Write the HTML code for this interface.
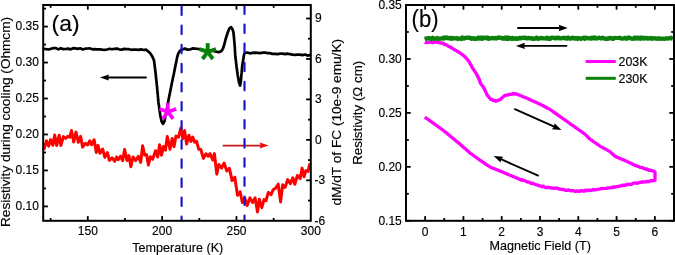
<!DOCTYPE html>
<html><head><meta charset="utf-8"><style>
html,body{margin:0;padding:0;background:#fff;overflow:hidden}
svg{display:block;will-change:transform}
text{font-family:"Liberation Sans",sans-serif;fill:#000;stroke:#000;stroke-width:0.15px}
</style></head><body><svg width="675" height="255" viewBox="0 0 675 255"><line x1="87.80" y1="220.80" x2="87.80" y2="216.10" stroke="#000" stroke-width="1.8" /><line x1="87.80" y1="5.00" x2="87.80" y2="9.70" stroke="#000" stroke-width="1.8" /><line x1="162.13" y1="220.80" x2="162.13" y2="216.10" stroke="#000" stroke-width="1.8" /><line x1="162.13" y1="5.00" x2="162.13" y2="9.70" stroke="#000" stroke-width="1.8" /><line x1="236.47" y1="220.80" x2="236.47" y2="216.10" stroke="#000" stroke-width="1.8" /><line x1="236.47" y1="5.00" x2="236.47" y2="9.70" stroke="#000" stroke-width="1.8" /><line x1="50.63" y1="220.80" x2="50.63" y2="218.00" stroke="#000" stroke-width="1.8" /><line x1="50.63" y1="5.00" x2="50.63" y2="7.80" stroke="#000" stroke-width="1.8" /><line x1="124.97" y1="220.80" x2="124.97" y2="218.00" stroke="#000" stroke-width="1.8" /><line x1="124.97" y1="5.00" x2="124.97" y2="7.80" stroke="#000" stroke-width="1.8" /><line x1="199.30" y1="220.80" x2="199.30" y2="218.00" stroke="#000" stroke-width="1.8" /><line x1="199.30" y1="5.00" x2="199.30" y2="7.80" stroke="#000" stroke-width="1.8" /><line x1="273.63" y1="220.80" x2="273.63" y2="218.00" stroke="#000" stroke-width="1.8" /><line x1="273.63" y1="5.00" x2="273.63" y2="7.80" stroke="#000" stroke-width="1.8" /><line x1="43.20" y1="206.41" x2="47.90" y2="206.41" stroke="#000" stroke-width="1.8" /><line x1="43.20" y1="170.45" x2="47.90" y2="170.45" stroke="#000" stroke-width="1.8" /><line x1="43.20" y1="134.48" x2="47.90" y2="134.48" stroke="#000" stroke-width="1.8" /><line x1="43.20" y1="98.51" x2="47.90" y2="98.51" stroke="#000" stroke-width="1.8" /><line x1="43.20" y1="62.55" x2="47.90" y2="62.55" stroke="#000" stroke-width="1.8" /><line x1="43.20" y1="26.58" x2="47.90" y2="26.58" stroke="#000" stroke-width="1.8" /><line x1="43.20" y1="188.43" x2="46.00" y2="188.43" stroke="#000" stroke-width="1.8" /><line x1="43.20" y1="152.46" x2="46.00" y2="152.46" stroke="#000" stroke-width="1.8" /><line x1="43.20" y1="116.50" x2="46.00" y2="116.50" stroke="#000" stroke-width="1.8" /><line x1="43.20" y1="80.53" x2="46.00" y2="80.53" stroke="#000" stroke-width="1.8" /><line x1="43.20" y1="44.56" x2="46.00" y2="44.56" stroke="#000" stroke-width="1.8" /><line x1="43.20" y1="8.60" x2="46.00" y2="8.60" stroke="#000" stroke-width="1.8" /><line x1="310.80" y1="180.34" x2="306.10" y2="180.34" stroke="#000" stroke-width="1.8" /><line x1="310.80" y1="139.88" x2="306.10" y2="139.88" stroke="#000" stroke-width="1.8" /><line x1="310.80" y1="99.41" x2="306.10" y2="99.41" stroke="#000" stroke-width="1.8" /><line x1="310.80" y1="58.95" x2="306.10" y2="58.95" stroke="#000" stroke-width="1.8" /><line x1="310.80" y1="18.49" x2="306.10" y2="18.49" stroke="#000" stroke-width="1.8" /><line x1="310.80" y1="200.57" x2="308.00" y2="200.57" stroke="#000" stroke-width="1.8" /><line x1="310.80" y1="160.11" x2="308.00" y2="160.11" stroke="#000" stroke-width="1.8" /><line x1="310.80" y1="119.64" x2="308.00" y2="119.64" stroke="#000" stroke-width="1.8" /><line x1="310.80" y1="79.18" x2="308.00" y2="79.18" stroke="#000" stroke-width="1.8" /><line x1="310.80" y1="38.72" x2="308.00" y2="38.72" stroke="#000" stroke-width="1.8" /><text x="87.80" y="235.40" font-size="12" text-anchor="middle" font-family="Liberation Sans, sans-serif" >150</text><text x="162.13" y="235.40" font-size="12" text-anchor="middle" font-family="Liberation Sans, sans-serif" >200</text><text x="236.47" y="235.40" font-size="12" text-anchor="middle" font-family="Liberation Sans, sans-serif" >250</text><text x="310.80" y="235.40" font-size="12" text-anchor="middle" font-family="Liberation Sans, sans-serif" >300</text><text x="38.90" y="210.31" font-size="12" text-anchor="end" font-family="Liberation Sans, sans-serif" >0.10</text><text x="38.90" y="174.35" font-size="12" text-anchor="end" font-family="Liberation Sans, sans-serif" >0.15</text><text x="38.90" y="138.38" font-size="12" text-anchor="end" font-family="Liberation Sans, sans-serif" >0.20</text><text x="38.90" y="102.41" font-size="12" text-anchor="end" font-family="Liberation Sans, sans-serif" >0.25</text><text x="38.90" y="66.45" font-size="12" text-anchor="end" font-family="Liberation Sans, sans-serif" >0.30</text><text x="38.90" y="30.48" font-size="12" text-anchor="end" font-family="Liberation Sans, sans-serif" >0.35</text><text x="314.60" y="224.50" font-size="12" text-anchor="start" font-family="Liberation Sans, sans-serif" >-6</text><text x="314.60" y="184.04" font-size="12" text-anchor="start" font-family="Liberation Sans, sans-serif" >-3</text><text x="315.00" y="143.57" font-size="12" text-anchor="start" font-family="Liberation Sans, sans-serif" >0</text><text x="315.00" y="103.11" font-size="12" text-anchor="start" font-family="Liberation Sans, sans-serif" >3</text><text x="315.00" y="62.65" font-size="12" text-anchor="start" font-family="Liberation Sans, sans-serif" >6</text><text x="315.00" y="22.19" font-size="12" text-anchor="start" font-family="Liberation Sans, sans-serif" >9</text><line x1="425.14" y1="220.80" x2="425.14" y2="216.10" stroke="#000" stroke-width="1.8" /><line x1="425.14" y1="5.00" x2="425.14" y2="9.70" stroke="#000" stroke-width="1.8" /><line x1="463.43" y1="220.80" x2="463.43" y2="216.10" stroke="#000" stroke-width="1.8" /><line x1="463.43" y1="5.00" x2="463.43" y2="9.70" stroke="#000" stroke-width="1.8" /><line x1="501.71" y1="220.80" x2="501.71" y2="216.10" stroke="#000" stroke-width="1.8" /><line x1="501.71" y1="5.00" x2="501.71" y2="9.70" stroke="#000" stroke-width="1.8" /><line x1="540.00" y1="220.80" x2="540.00" y2="216.10" stroke="#000" stroke-width="1.8" /><line x1="540.00" y1="5.00" x2="540.00" y2="9.70" stroke="#000" stroke-width="1.8" /><line x1="578.29" y1="220.80" x2="578.29" y2="216.10" stroke="#000" stroke-width="1.8" /><line x1="578.29" y1="5.00" x2="578.29" y2="9.70" stroke="#000" stroke-width="1.8" /><line x1="616.57" y1="220.80" x2="616.57" y2="216.10" stroke="#000" stroke-width="1.8" /><line x1="616.57" y1="5.00" x2="616.57" y2="9.70" stroke="#000" stroke-width="1.8" /><line x1="654.86" y1="220.80" x2="654.86" y2="216.10" stroke="#000" stroke-width="1.8" /><line x1="654.86" y1="5.00" x2="654.86" y2="9.70" stroke="#000" stroke-width="1.8" /><line x1="444.29" y1="220.80" x2="444.29" y2="218.00" stroke="#000" stroke-width="1.8" /><line x1="444.29" y1="5.00" x2="444.29" y2="7.80" stroke="#000" stroke-width="1.8" /><line x1="482.57" y1="220.80" x2="482.57" y2="218.00" stroke="#000" stroke-width="1.8" /><line x1="482.57" y1="5.00" x2="482.57" y2="7.80" stroke="#000" stroke-width="1.8" /><line x1="520.86" y1="220.80" x2="520.86" y2="218.00" stroke="#000" stroke-width="1.8" /><line x1="520.86" y1="5.00" x2="520.86" y2="7.80" stroke="#000" stroke-width="1.8" /><line x1="559.14" y1="220.80" x2="559.14" y2="218.00" stroke="#000" stroke-width="1.8" /><line x1="559.14" y1="5.00" x2="559.14" y2="7.80" stroke="#000" stroke-width="1.8" /><line x1="597.43" y1="220.80" x2="597.43" y2="218.00" stroke="#000" stroke-width="1.8" /><line x1="597.43" y1="5.00" x2="597.43" y2="7.80" stroke="#000" stroke-width="1.8" /><line x1="635.71" y1="220.80" x2="635.71" y2="218.00" stroke="#000" stroke-width="1.8" /><line x1="635.71" y1="5.00" x2="635.71" y2="7.80" stroke="#000" stroke-width="1.8" /><line x1="406.00" y1="220.80" x2="410.70" y2="220.80" stroke="#000" stroke-width="1.8" /><line x1="674.00" y1="220.80" x2="669.30" y2="220.80" stroke="#000" stroke-width="1.8" /><line x1="406.00" y1="166.85" x2="410.70" y2="166.85" stroke="#000" stroke-width="1.8" /><line x1="674.00" y1="166.85" x2="669.30" y2="166.85" stroke="#000" stroke-width="1.8" /><line x1="406.00" y1="112.90" x2="410.70" y2="112.90" stroke="#000" stroke-width="1.8" /><line x1="674.00" y1="112.90" x2="669.30" y2="112.90" stroke="#000" stroke-width="1.8" /><line x1="406.00" y1="58.95" x2="410.70" y2="58.95" stroke="#000" stroke-width="1.8" /><line x1="674.00" y1="58.95" x2="669.30" y2="58.95" stroke="#000" stroke-width="1.8" /><line x1="406.00" y1="5.00" x2="410.70" y2="5.00" stroke="#000" stroke-width="1.8" /><line x1="674.00" y1="5.00" x2="669.30" y2="5.00" stroke="#000" stroke-width="1.8" /><line x1="406.00" y1="193.82" x2="408.80" y2="193.82" stroke="#000" stroke-width="1.8" /><line x1="674.00" y1="193.82" x2="671.20" y2="193.82" stroke="#000" stroke-width="1.8" /><line x1="406.00" y1="139.87" x2="408.80" y2="139.87" stroke="#000" stroke-width="1.8" /><line x1="674.00" y1="139.87" x2="671.20" y2="139.87" stroke="#000" stroke-width="1.8" /><line x1="406.00" y1="85.92" x2="408.80" y2="85.92" stroke="#000" stroke-width="1.8" /><line x1="674.00" y1="85.92" x2="671.20" y2="85.92" stroke="#000" stroke-width="1.8" /><line x1="406.00" y1="31.97" x2="408.80" y2="31.97" stroke="#000" stroke-width="1.8" /><line x1="674.00" y1="31.97" x2="671.20" y2="31.97" stroke="#000" stroke-width="1.8" /><text x="425.14" y="235.50" font-size="12" text-anchor="middle" font-family="Liberation Sans, sans-serif" >0</text><text x="463.43" y="235.50" font-size="12" text-anchor="middle" font-family="Liberation Sans, sans-serif" >1</text><text x="501.71" y="235.50" font-size="12" text-anchor="middle" font-family="Liberation Sans, sans-serif" >2</text><text x="540.00" y="235.50" font-size="12" text-anchor="middle" font-family="Liberation Sans, sans-serif" >3</text><text x="578.29" y="235.50" font-size="12" text-anchor="middle" font-family="Liberation Sans, sans-serif" >4</text><text x="616.57" y="235.50" font-size="12" text-anchor="middle" font-family="Liberation Sans, sans-serif" >5</text><text x="654.86" y="235.50" font-size="12" text-anchor="middle" font-family="Liberation Sans, sans-serif" >6</text><text x="401.80" y="224.70" font-size="12" text-anchor="end" font-family="Liberation Sans, sans-serif" >0.15</text><text x="401.80" y="170.75" font-size="12" text-anchor="end" font-family="Liberation Sans, sans-serif" >0.20</text><text x="401.80" y="116.80" font-size="12" text-anchor="end" font-family="Liberation Sans, sans-serif" >0.25</text><text x="401.80" y="62.85" font-size="12" text-anchor="end" font-family="Liberation Sans, sans-serif" >0.30</text><text x="401.80" y="8.90" font-size="12" text-anchor="end" font-family="Liberation Sans, sans-serif" >0.35</text><path d="M43.8,149.9 L46.5,140.8 L48.7,146.1 L50.6,139.6 L52.9,145.3 L54.7,135.0 L56.7,145.5 L59.2,135.2 L60.9,145.4 L63.4,136.6 L65.7,138.4 L68.0,136.2 L69.8,137.2 L71.5,130.5 L73.7,142.0 L76.0,132.1 L78.4,142.3 L80.6,136.4 L82.6,147.1 L85.2,143.3 L87.7,144.9 L89.7,140.8 L91.5,144.8 L94.1,139.8 L96.3,152.5 L98.0,145.4 L99.9,153.2 L102.7,149.1 L104.8,157.4 L107.4,152.5 L109.4,160.4 L112.1,157.9 L114.7,161.4 L116.5,157.0 L118.2,159.7 L120.6,156.2 L122.7,160.7 L124.6,149.6 L127.0,160.5 L128.9,155.6 L130.9,166.8 L133.0,156.9 L135.6,160.6 L138.3,156.3 L140.7,162.4 L142.6,145.8 L144.6,154.9 L146.6,154.8 L148.4,165.0 L150.4,156.7 L152.7,159.1 L155.5,150.7 L157.7,156.9 L159.6,144.7 L161.5,155.2 L163.5,146.4 L165.4,150.2 L167.3,136.5 L170.0,149.3 L172.2,138.4 L174.0,146.8 L176.0,136.1 L178.5,137.1 L180.8,128.1 L182.8,138.7 L184.6,130.6 L186.6,144.1 L188.9,135.2 L190.9,141.5 L192.7,137.1 L194.7,142.3 L196.6,141.4 L198.7,149.2 L200.8,149.5 L203.4,158.4 L205.9,153.7 L208.2,156.1 L210.0,153.6 L212.7,160.0 L214.4,153.6 L216.8,174.2 L218.8,164.5 L221.6,168.1 L224.1,163.0 L226.8,171.0 L229.4,168.4 L232.1,180.6 L234.8,177.2 L237.5,195.3 L240.1,191.8 L242.4,202.6 L244.8,197.9 L247.2,205.6 L249.9,197.9 L252.6,202.4 L255.1,197.9 L257.5,211.9 L259.3,199.2 L261.8,207.6 L264.0,199.6 L266.0,200.6 L268.3,192.5 L271.0,194.7 L273.1,189.8 L275.5,188.3 L278.2,184.2 L280.6,201.9 L282.7,184.8 L285.1,187.4 L287.7,179.6 L290.4,183.7 L292.8,177.8 L294.8,184.2 L297.4,175.5 L300.1,178.6 L302.1,168.1 L304.0,176.7 L305.9,170.6 L308.1,171.4 L309.8,163.5" fill="none" stroke="#f00" stroke-width="3.0" stroke-linejoin="round"/><path d="M43.8,48.7 L46.2,49.2 L48.7,49.5 L51.1,48.7 L53.5,48.1 L56.0,48.1 L58.4,49.4 L60.8,48.2 L63.3,49.2 L65.7,49.0 L68.1,48.6 L70.6,49.4 L73.0,48.2 L75.4,48.4 L77.9,48.9 L80.3,48.3 L82.7,49.5 L85.2,48.7 L87.6,48.5 L90.0,48.4 L92.5,49.3 L94.9,49.1 L97.3,49.4 L99.8,49.4 L102.2,49.7 L104.6,49.9 L107.1,49.5 L109.5,48.8 L111.9,49.3 L114.4,48.8 L116.8,48.6 L119.2,49.3 L121.7,49.7 L124.1,48.9 L126.5,49.1 L129.0,49.2 L131.4,49.8 L133.8,49.5 L136.3,49.7 L138.7,49.9 L141.1,49.4 L143.6,50.0 L146.0,49.6 L148.0,51.2 L150.0,53.0 L151.5,55.2 L152.8,57.5 L154.0,60.5 L154.4,63.7 L154.8,66.8 L155.2,70.0 L155.5,72.5 L155.8,75.0 L156.0,77.5 L156.3,80.0 L156.6,82.5 L156.8,85.0 L157.1,87.5 L157.3,90.0 L157.5,92.5 L157.8,95.0 L158.0,97.5 L158.2,100.0 L158.5,102.7 L158.9,105.3 L159.2,108.0 L159.6,110.7 L160.0,113.3 L160.4,116.0 L161.0,118.8 L161.6,121.5 L163.0,123.8 L164.3,121.8 L164.9,118.9 L165.5,116.0 L166.0,113.3 L166.5,110.7 L167.0,108.0 L167.5,105.3 L168.0,102.7 L168.5,100.0 L169.0,97.5 L169.5,95.0 L170.0,92.5 L170.5,90.0 L171.0,87.5 L171.5,85.0 L172.0,82.5 L172.5,80.0 L173.0,77.5 L173.6,75.0 L174.1,72.5 L174.6,70.0 L175.2,67.0 L175.8,64.0 L176.4,61.0 L177.3,56.5 L178.5,53.0 L180.2,50.6 L182.0,49.5 L185.0,48.6 L187.5,49.7 L190.0,49.5 L192.5,48.4 L195.0,48.6 L199.0,49.0 L202.0,50.1 L205.0,50.0 L207.5,50.6 L210.0,50.6 L212.5,50.5 L215.0,51.5 L219.0,52.2 L221.5,51.0 L223.0,48.5 L224.0,45.5 L224.7,42.8 L225.4,40.0 L226.6,36.0 L227.9,32.0 L229.5,28.3 L231.1,27.2 L232.3,28.8 L233.4,32.0 L233.7,35.0 L234.0,38.0 L234.3,41.5 L234.6,45.0 L234.8,47.4 L234.9,49.8 L235.1,52.2 L235.2,54.6 L235.4,57.0 L235.8,60.0 L236.2,63.5 L236.6,67.0 L237.0,69.7 L237.3,72.3 L237.7,75.0 L238.3,78.5 L238.9,82.0 L240.1,85.6 L240.6,82.8 L241.0,80.0 L241.2,77.4 L241.4,74.8 L241.7,72.2 L241.9,69.6 L242.1,67.0 L242.6,63.5 L243.2,60.0 L243.6,57.5 L244.0,55.0 L244.8,52.8 L247.0,52.5 L250.0,53.3 L252.5,52.9 L255.0,52.6 L257.6,52.8 L260.2,53.2 L262.8,52.6 L265.2,52.6 L267.6,53.1 L270.0,53.2 L272.5,53.9 L275.0,53.8 L277.5,54.2 L280.0,53.6 L282.5,53.7 L285.0,54.1 L287.5,53.6 L290.0,54.2 L292.5,54.6 L295.0,54.9 L297.5,54.7 L300.0,54.6 L302.5,55.1 L305.0,54.5 L307.5,55.6 L310.0,55.2" fill="none" stroke="#000" stroke-width="2.7" stroke-linejoin="round" stroke-linecap="round"/><line x1="146.70" y1="77.50" x2="107.90" y2="77.50" stroke="#000" stroke-width="1.8" /><path d="M99.90,77.50 L108.90,74.50 L108.10,77.50 L108.90,80.50 Z" fill="#000"/><line x1="222.70" y1="145.60" x2="260.70" y2="145.60" stroke="#c41a1a" stroke-width="1.8" /><path d="M268.70,145.60 L259.70,148.60 L260.50,145.60 L259.70,142.60 Z" fill="#f01010"/><line x1="167.90" y1="111.70" x2="167.90" y2="102.90" stroke="#ff00ff" stroke-width="3.6" stroke-linecap="butt"/><line x1="167.90" y1="111.70" x2="159.53" y2="108.98" stroke="#ff00ff" stroke-width="3.6" stroke-linecap="butt"/><line x1="167.90" y1="111.70" x2="162.73" y2="118.82" stroke="#ff00ff" stroke-width="3.6" stroke-linecap="butt"/><line x1="167.90" y1="111.70" x2="173.07" y2="118.82" stroke="#ff00ff" stroke-width="3.6" stroke-linecap="butt"/><line x1="167.90" y1="111.70" x2="176.27" y2="108.98" stroke="#ff00ff" stroke-width="3.6" stroke-linecap="butt"/><line x1="207.70" y1="51.90" x2="207.70" y2="43.10" stroke="#0a800a" stroke-width="3.9" stroke-linecap="butt"/><line x1="207.70" y1="51.90" x2="199.33" y2="49.18" stroke="#0a800a" stroke-width="3.9" stroke-linecap="butt"/><line x1="207.70" y1="51.90" x2="202.53" y2="59.02" stroke="#0a800a" stroke-width="3.9" stroke-linecap="butt"/><line x1="207.70" y1="51.90" x2="212.87" y2="59.02" stroke="#0a800a" stroke-width="3.9" stroke-linecap="butt"/><line x1="207.70" y1="51.90" x2="216.07" y2="49.18" stroke="#0a800a" stroke-width="3.9" stroke-linecap="butt"/><line x1="181.60" y1="5.00" x2="181.60" y2="220.80" stroke="#1818c8" stroke-width="2.2" stroke-dasharray="8.4 10.7" stroke-dashoffset="-1.6" stroke-linecap="round"/><line x1="244.50" y1="5.00" x2="244.50" y2="220.80" stroke="#1818c8" stroke-width="2.2" stroke-dasharray="8.4 10.7" stroke-dashoffset="-0.5000000000000001" stroke-linecap="round"/><path d="M424.8,42.2 L425.8,42.7 L426.9,42.6 L427.9,42.2 L429.0,42.4 L430.0,42.1 L431.0,42.0 L432.0,42.6 L433.0,42.6 L434.0,42.1 L435.0,42.3 L436.0,41.9 L437.0,42.3 L438.0,42.4 L439.0,42.6 L440.0,43.0 L441.0,42.9 L442.0,43.2 L443.0,43.1 L444.0,44.3 L445.0,44.3 L446.0,44.8 L447.0,45.3 L448.0,45.9 L449.0,46.4 L450.0,46.9 L451.0,47.5 L452.0,48.1 L453.0,48.8 L454.0,49.4 L455.0,50.0 L456.0,50.6 L457.0,51.2 L458.0,51.7 L459.0,52.3 L460.0,52.9 L460.8,53.5 L461.7,54.2 L462.5,54.8 L463.3,55.5 L464.2,56.1 L465.0,56.8 L465.7,57.6 L466.3,58.4 L467.0,59.1 L467.7,59.9 L468.3,60.7 L469.0,61.5 L469.5,62.4 L470.0,63.4 L470.5,64.3 L471.1,65.3 L471.6,66.2 L472.1,67.2 L472.6,68.1 L473.2,69.0 L473.8,69.9 L474.4,70.8 L475.0,71.7 L475.6,72.6 L476.2,73.5 L476.7,74.4 L477.1,75.4 L477.6,76.3 L478.1,77.2 L478.6,78.1 L479.0,79.1 L479.5,80.0 L479.8,81.0 L480.0,82.0 L480.3,83.0 L480.9,83.8 L481.6,84.7 L482.2,85.5 L482.9,86.4 L483.5,87.2 L483.9,88.2 L484.4,89.1 L484.9,90.1 L485.3,91.1 L485.8,92.0 L486.2,93.0 L486.7,93.9 L487.1,94.9 L487.8,95.8 L488.6,96.7 L489.3,97.6 L490.1,98.5 L490.8,99.4 L491.9,99.4 L493.1,100.6 L494.2,100.4 L495.3,101.2 L496.4,100.7 L497.6,100.8 L498.7,99.9 L499.8,99.9 L500.6,99.2 L501.3,98.5 L502.1,97.8 L502.8,97.2 L503.6,96.5 L504.3,95.8 L505.4,95.1 L506.6,95.1 L507.7,95.0 L508.8,94.4 L509.8,94.6 L510.8,94.2 L511.8,94.3 L512.8,93.7 L513.8,93.5 L514.8,94.2 L515.8,93.6 L516.7,94.1 L517.7,94.6 L518.7,94.9 L519.8,95.3 L520.9,95.8 L522.0,96.2 L523.1,96.7 L524.2,97.1 L525.3,97.6 L526.5,98.0 L527.6,98.5 L528.7,99.0 L530.0,99.7 L531.0,100.1 L532.0,100.6 L533.0,101.0 L534.0,101.5 L535.0,101.9 L536.0,102.3 L537.0,102.8 L538.0,103.2 L539.0,103.7 L540.0,104.1 L540.9,104.6 L541.8,105.1 L542.7,105.5 L543.6,106.0 L544.5,106.5 L545.5,107.0 L546.4,107.5 L547.3,108.0 L548.2,108.4 L549.1,108.9 L550.0,109.4 L550.8,110.0 L551.7,110.6 L552.5,111.2 L553.3,111.8 L554.2,112.4 L555.0,113.0 L555.8,113.5 L556.7,114.1 L557.5,114.7 L558.3,115.3 L559.2,115.9 L560.0,116.5 L560.8,117.1 L561.7,117.7 L562.5,118.3 L563.3,118.9 L564.2,119.5 L565.0,120.0 L565.8,120.6 L566.7,121.2 L567.5,121.8 L568.3,122.4 L569.2,123.0 L570.0,123.6 L570.8,124.2 L571.7,124.8 L572.5,125.3 L573.3,125.9 L574.2,126.5 L575.0,127.1 L575.8,127.7 L576.7,128.3 L577.5,128.8 L578.3,129.4 L579.2,130.0 L580.0,130.6 L580.8,131.2 L581.7,131.8 L582.5,132.4 L583.3,133.0 L584.2,133.6 L585.0,134.2 L585.7,134.9 L586.4,135.6 L587.1,136.3 L587.9,137.1 L588.6,137.8 L589.3,138.5 L590.0,139.2 L590.8,139.8 L591.7,140.3 L592.5,140.9 L593.3,141.5 L594.2,142.1 L595.0,142.6 L595.8,143.2 L596.7,143.8 L597.5,144.4 L598.3,144.9 L599.2,145.5 L600.0,146.1 L600.9,146.6 L601.8,147.1 L602.7,147.6 L603.6,148.1 L604.5,148.6 L605.5,149.1 L606.4,149.6 L607.3,150.1 L608.2,150.6 L609.1,151.1 L610.0,151.6 L610.8,152.4 L611.7,153.2 L612.5,154.0 L613.3,154.8 L614.2,155.6 L615.0,156.4 L616.0,156.8 L617.0,157.2 L618.0,157.6 L619.0,158.0 L620.0,158.4 L621.0,158.9 L622.0,159.3 L623.0,159.7 L624.0,160.1 L625.0,160.5 L625.9,160.9 L626.8,161.4 L627.7,161.8 L628.6,162.2 L629.5,162.7 L630.5,163.1 L631.4,163.6 L632.3,164.0 L633.2,164.4 L634.1,164.9 L635.0,165.3 L636.0,165.4 L637.0,166.2 L638.0,166.5 L639.0,166.7 L640.0,167.3 L641.0,167.4 L642.0,167.5 L643.0,167.9 L644.0,168.7 L645.0,168.7 L646.0,169.4 L647.0,169.0 L648.0,169.9 L649.0,170.3 L650.0,170.1 L651.1,170.5 L652.3,171.0 L653.5,171.0 L654.6,171.7 L655.0,172.0 L655.0,173.1 L655.0,174.1 L655.0,175.2 L655.0,176.2 L655.0,177.2 L655.0,178.3 L655.0,179.3 L655.0,180.4 L654.0,180.6 L653.0,180.7 L652.0,180.9 L651.0,180.5 L650.0,181.1 L649.0,181.7 L648.0,181.4 L647.0,181.4 L646.0,181.9 L645.0,181.8 L644.0,181.9 L643.0,182.2 L642.0,181.7 L641.0,182.3 L640.0,182.4 L639.0,182.5 L638.0,183.2 L637.0,183.3 L636.0,182.8 L635.0,183.2 L634.0,183.0 L633.0,183.5 L632.0,184.1 L631.0,184.3 L630.0,184.1 L629.0,184.3 L628.0,184.3 L627.0,184.4 L626.0,185.1 L625.0,185.6 L624.0,185.0 L623.0,185.8 L622.0,185.3 L621.0,185.7 L620.0,186.2 L619.0,186.1 L618.0,186.7 L617.0,186.5 L616.0,186.7 L615.0,187.2 L614.0,186.8 L613.0,187.6 L612.0,187.2 L611.0,187.7 L610.0,187.9 L609.0,187.8 L608.0,187.8 L607.0,188.3 L606.0,188.3 L605.0,188.3 L604.0,188.5 L603.0,188.7 L602.0,188.4 L601.0,188.6 L600.0,189.0 L599.0,189.2 L598.0,189.4 L597.0,189.4 L596.0,189.8 L595.0,189.7 L594.0,190.0 L593.0,189.5 L592.0,190.1 L591.0,190.3 L590.0,190.1 L589.0,190.6 L588.0,190.1 L587.0,190.2 L586.0,190.9 L585.0,190.3 L584.0,191.2 L583.0,191.2 L582.0,190.5 L581.0,190.7 L580.0,191.3 L579.0,191.0 L578.0,191.3 L577.0,190.8 L576.0,191.5 L575.0,191.0 L574.0,191.2 L573.0,190.5 L572.0,190.7 L571.0,190.9 L570.0,190.6 L569.0,190.0 L568.0,190.0 L567.0,190.3 L566.0,190.4 L565.0,190.3 L564.0,189.3 L563.0,189.5 L562.0,189.6 L561.0,189.2 L560.0,189.0 L559.0,189.1 L558.0,188.5 L557.0,188.2 L556.0,188.2 L555.0,188.0 L554.0,188.4 L553.0,188.2 L552.0,188.2 L551.0,187.7 L550.0,187.9 L549.0,187.4 L548.0,187.2 L547.0,187.6 L546.0,187.6 L545.0,187.3 L544.0,186.3 L543.0,186.1 L542.0,186.8 L541.0,186.1 L540.0,185.9 L539.0,185.8 L538.0,185.1 L537.0,184.9 L536.0,184.6 L535.0,184.2 L534.0,184.1 L533.0,183.2 L532.0,183.5 L531.0,183.4 L530.0,182.7 L529.0,182.1 L528.0,182.0 L527.0,181.9 L526.0,181.3 L525.0,180.7 L524.0,180.4 L523.0,180.4 L522.0,179.6 L521.0,180.1 L520.0,179.4 L519.0,179.0 L518.0,178.6 L517.0,178.1 L516.0,177.7 L515.0,177.3 L514.0,176.9 L513.0,176.5 L512.0,176.0 L511.0,175.6 L510.0,175.2 L509.0,174.8 L508.0,174.4 L507.0,173.9 L506.0,173.5 L505.0,173.1 L504.0,172.7 L503.0,172.3 L502.0,171.8 L501.0,171.4 L500.0,171.0 L499.0,170.6 L498.0,170.2 L497.0,169.8 L496.0,169.4 L495.0,169.0 L494.0,168.6 L493.0,168.2 L492.0,167.8 L491.0,167.4 L490.0,167.0 L489.2,166.4 L488.3,165.9 L487.5,165.3 L486.7,164.7 L485.8,164.2 L485.0,163.6 L484.2,163.0 L483.3,162.5 L482.5,161.9 L481.7,161.3 L480.8,160.8 L480.0,160.2 L479.2,159.6 L478.3,159.0 L477.5,158.4 L476.7,157.8 L475.8,157.2 L475.0,156.6 L474.2,156.0 L473.3,155.4 L472.5,154.8 L471.7,154.2 L470.8,153.6 L470.0,153.0 L469.2,152.3 L468.5,151.6 L467.7,150.9 L466.9,150.3 L466.2,149.6 L465.4,148.9 L464.6,148.2 L463.8,147.5 L463.1,146.8 L462.3,146.2 L461.5,145.5 L460.8,144.8 L460.0,144.1 L459.2,143.4 L458.3,142.7 L457.5,142.1 L456.7,141.4 L455.8,140.7 L455.0,140.0 L454.2,139.3 L453.3,138.6 L452.5,137.9 L451.7,137.3 L450.8,136.6 L450.0,135.9 L449.2,135.2 L448.3,134.5 L447.5,133.8 L446.7,133.1 L445.8,132.4 L445.0,131.7 L444.2,131.1 L443.3,130.5 L442.5,129.8 L441.7,129.2 L440.8,128.6 L440.0,128.0 L439.2,127.4 L438.3,126.8 L437.5,126.2 L436.7,125.6 L435.8,125.0 L435.0,124.4 L434.2,123.8 L433.3,123.2 L432.5,122.6 L431.7,122.0 L430.8,121.4 L430.0,120.8 L429.1,120.2 L428.3,119.6 L427.4,119.0 L426.5,118.4 L425.7,117.8 L424.8,117.2" fill="none" stroke="#ff00ff" stroke-width="3.3" stroke-linejoin="round"/><path d="M424.5,38.7 L425.4,38.5 L426.3,38.8 L427.2,38.4 L428.1,38.0 L429.0,38.4 L429.9,38.2 L430.8,39.0 L431.7,38.7 L432.6,37.8 L433.5,38.9 L434.4,38.6 L435.3,38.6 L436.2,38.7 L437.1,38.0 L438.0,38.8 L438.9,38.8 L439.8,38.5 L440.7,38.6 L441.6,38.6 L442.5,38.0 L443.4,38.6 L444.3,37.5 L445.2,37.9 L446.1,38.2 L447.0,37.4 L447.9,38.0 L448.8,38.4 L449.7,38.4 L450.6,37.8 L451.5,38.9 L452.4,38.5 L453.3,37.9 L454.2,38.5 L455.1,38.3 L456.0,38.3 L456.9,38.0 L457.8,39.0 L458.7,38.4 L459.6,38.5 L460.5,38.6 L461.4,39.0 L462.3,37.4 L463.2,38.4 L464.1,38.6 L465.0,37.8 L465.9,38.0 L466.8,37.5 L467.7,37.7 L468.6,38.0 L469.5,37.6 L470.4,37.8 L471.3,38.8 L472.2,38.3 L473.1,38.2 L474.0,38.9 L474.9,38.3 L475.8,39.0 L476.7,38.4 L477.6,38.7 L478.5,37.5 L479.4,38.4 L480.3,38.6 L481.2,37.5 L482.1,38.9 L483.0,37.7 L483.9,38.2 L484.8,37.7 L485.7,38.2 L486.6,38.4 L487.5,37.5 L488.4,38.9 L489.3,38.1 L490.2,38.2 L491.1,38.4 L492.0,38.0 L492.9,37.9 L493.8,38.4 L494.7,38.3 L495.6,37.9 L496.5,38.5 L497.4,37.9 L498.3,37.4 L499.2,37.8 L500.1,37.5 L501.0,37.7 L501.9,38.6 L502.8,38.0 L503.7,38.8 L504.6,38.6 L505.5,37.5 L506.4,39.0 L507.3,38.9 L508.2,37.5 L509.1,38.8 L510.0,38.1 L510.9,38.2 L511.8,39.0 L512.7,37.8 L513.6,38.2 L514.5,38.9 L515.4,38.6 L516.3,38.1 L517.2,39.0 L518.1,38.7 L519.0,38.4 L519.9,37.6 L520.8,38.4 L521.7,38.1 L522.6,37.7 L523.5,37.5 L524.4,38.2 L525.3,37.6 L526.2,38.1 L527.1,38.5 L528.0,38.1 L528.9,37.8 L529.8,38.3 L530.7,38.1 L531.6,38.6 L532.5,38.2 L533.4,39.0 L534.3,38.9 L535.2,38.6 L536.1,37.8 L537.0,37.6 L537.9,38.8 L538.8,38.7 L539.7,38.4 L540.6,38.0 L541.5,37.8 L542.4,38.5 L543.3,38.3 L544.2,38.3 L545.1,38.4 L546.0,38.6 L546.9,37.7 L547.8,37.8 L548.7,39.0 L549.6,38.9 L550.5,38.8 L551.4,37.5 L552.3,37.5 L553.2,37.8 L554.1,38.1 L555.0,38.4 L555.9,37.6 L556.8,38.3 L557.7,37.5 L558.6,37.5 L559.5,38.5 L560.4,38.3 L561.3,38.4 L562.2,38.0 L563.1,38.2 L564.0,37.7 L564.9,37.9 L565.8,38.6 L566.7,38.7 L567.6,37.5 L568.5,37.6 L569.4,38.7 L570.3,38.4 L571.2,38.6 L572.1,37.7 L573.0,38.1 L573.9,37.8 L574.8,38.7 L575.7,38.0 L576.6,38.4 L577.5,39.0 L578.4,37.9 L579.3,38.3 L580.2,38.6 L581.1,38.9 L582.0,38.1 L582.9,38.0 L583.8,37.6 L584.7,38.8 L585.6,37.5 L586.5,37.5 L587.4,38.3 L588.3,38.2 L589.2,38.5 L590.1,37.9 L591.0,38.6 L591.9,37.5 L592.8,37.7 L593.7,38.5 L594.6,37.5 L595.5,37.9 L596.4,38.6 L597.3,38.5 L598.2,37.9 L599.1,37.6 L600.0,38.0 L600.9,38.6 L601.8,38.0 L602.7,37.6 L603.6,38.5 L604.5,38.3 L605.4,38.9 L606.3,38.9 L607.2,38.9 L608.1,38.1 L609.0,38.7 L609.9,37.9 L610.8,37.9 L611.7,38.0 L612.6,38.9 L613.5,38.8 L614.4,37.8 L615.3,38.0 L616.2,38.0 L617.1,38.0 L618.0,38.0 L618.9,38.0 L619.8,37.7 L620.7,38.3 L621.6,38.7 L622.5,38.3 L623.4,38.7 L624.3,38.3 L625.2,37.7 L626.1,38.6 L627.0,38.8 L627.9,37.9 L628.8,37.4 L629.7,38.2 L630.6,38.3 L631.5,38.3 L632.4,38.9 L633.3,38.4 L634.2,38.7 L635.1,37.5 L636.0,38.3 L636.9,38.7 L637.8,37.5 L638.7,37.5 L639.6,38.6 L640.5,38.8 L641.4,37.5 L642.3,38.4 L643.2,37.6 L644.1,38.6 L645.0,38.4 L645.9,37.8 L646.8,37.8 L647.7,38.6 L648.6,38.2 L649.5,38.6 L650.4,38.0 L651.3,37.9 L652.2,38.9 L653.1,38.5 L654.0,38.2 L654.9,38.3 L655.8,38.6 L656.7,38.5 L657.6,38.9 L658.5,38.1 L659.4,38.7 L660.3,38.5 L661.2,38.8 L662.1,38.7 L663.0,38.7 L663.9,38.8 L664.8,38.9 L665.7,38.4 L666.6,38.2 L667.5,38.5 L668.4,38.7 L669.3,38.1 L670.2,38.1 L671.1,37.6 L672.0,38.6 L672.9,39.0" fill="none" stroke="#0c820c" stroke-width="4.2" stroke-linejoin="round"/><line x1="517.20" y1="28.00" x2="559.70" y2="28.00" stroke="#000" stroke-width="1.9" /><path d="M567.70,28.00 L558.70,31.20 L559.50,28.00 L558.70,24.80 Z" fill="#000"/><line x1="567.20" y1="45.90" x2="523.90" y2="45.90" stroke="#000" stroke-width="1.9" /><path d="M515.90,45.90 L524.90,42.70 L524.10,45.90 L524.90,49.10 Z" fill="#000"/><line x1="514.30" y1="108.90" x2="554.19" y2="126.65" stroke="#000" stroke-width="1.9" /><path d="M561.50,129.90 L551.98,129.17 L554.01,126.57 L554.58,123.32 Z" fill="#000"/><line x1="538.70" y1="175.90" x2="501.02" y2="159.24" stroke="#000" stroke-width="1.9" /><path d="M493.70,156.00 L503.23,156.71 L501.20,159.32 L500.64,162.57 Z" fill="#000"/><line x1="585.70" y1="61.50" x2="615.80" y2="61.50" stroke="#ff00ff" stroke-width="3.0" /><line x1="585.70" y1="78.30" x2="615.80" y2="78.30" stroke="#0c820c" stroke-width="3.0" /><text x="618.50" y="66.20" font-size="12.4" text-anchor="start" font-family="Liberation Sans, sans-serif" >203K</text><text x="618.50" y="83.00" font-size="12.4" text-anchor="start" font-family="Liberation Sans, sans-serif" >230K</text><rect x="43.2" y="5.0" width="267.6" height="215.8" fill="none" stroke="#000" stroke-width="2"/><rect x="406.0" y="5.0" width="268.0" height="215.8" fill="none" stroke="#000" stroke-width="2"/><text x="51.60" y="31.10" font-size="22.9" text-anchor="start" font-family="Liberation Sans, sans-serif" >(a)</text><text x="411.60" y="26.90" font-size="23.5" text-anchor="start" font-family="Liberation Sans, sans-serif" textLength="26.9" lengthAdjust="spacingAndGlyphs">(b)</text><text x="177.80" y="252.40" font-size="12.6" text-anchor="middle" font-family="Liberation Sans, sans-serif" >Temperature (K)</text><text x="540.20" y="250.00" font-size="12.6" text-anchor="middle" font-family="Liberation Sans, sans-serif" >Magnetic Field (T)</text><text transform="translate(10.30,122.00) rotate(-90)" x="0" y="0" font-size="12.4" text-anchor="middle" font-family="Liberation Sans, sans-serif" textLength="210" lengthAdjust="spacingAndGlyphs">Resistivity during cooling (Ohmcm)</text><text transform="translate(341.30,122.20) rotate(-90)" x="0" y="0" font-size="12.4" text-anchor="middle" font-family="Liberation Sans, sans-serif" textLength="166.5" lengthAdjust="spacingAndGlyphs">dM/dT of FC (10e-9 emu/K)</text><text transform="translate(362.20,112.80) rotate(-90)" x="0" y="0" font-size="12.4" text-anchor="middle" font-family="Liberation Sans, sans-serif" textLength="104" lengthAdjust="spacingAndGlyphs">Resistivity (Ω cm)</text></svg></body></html>
